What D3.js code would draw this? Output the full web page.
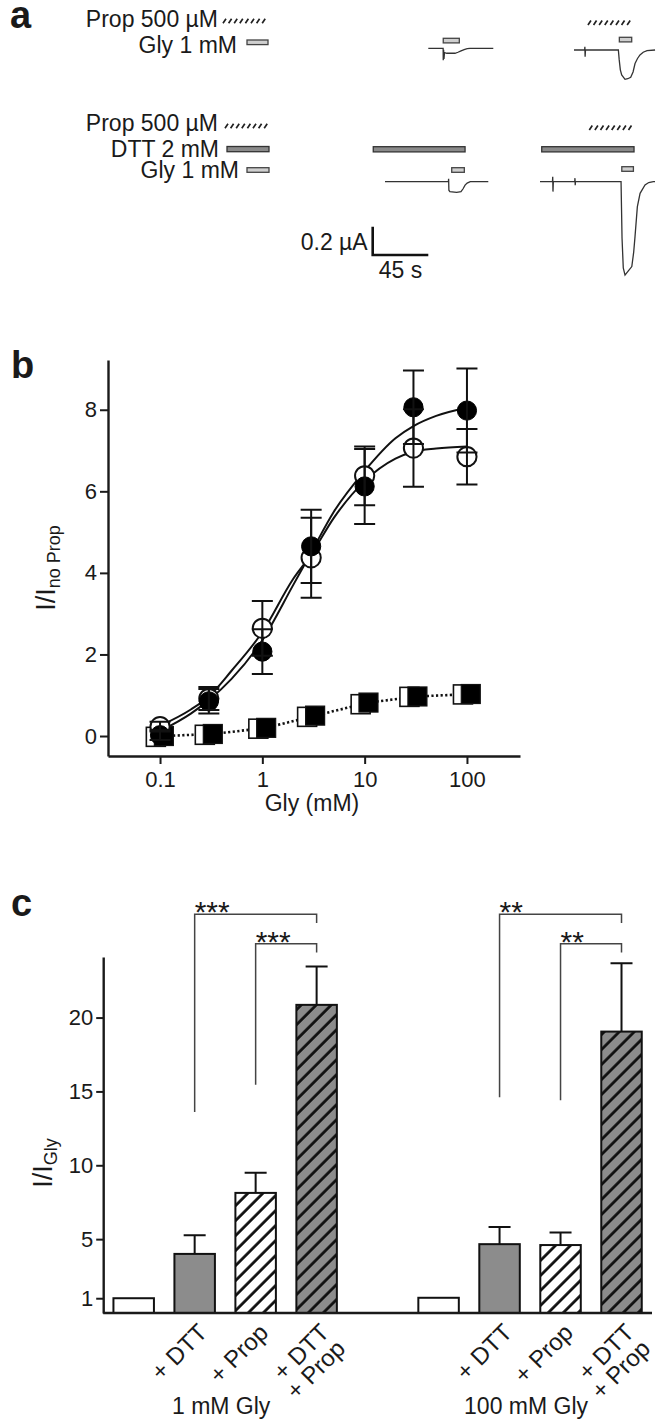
<!DOCTYPE html>
<html><head><meta charset="utf-8">
<script src="https://cdn.jsdelivr.net/npm/d3@7"></script>
<style>
body{margin:0;background:#fff}
svg{display:block}
text{font-family:"Liberation Sans",Arial,Helvetica,sans-serif;fill:#1a1a1a}
</style>
</head><body>
<svg id="fig" width="656" height="1424"></svg>
<script>
// ================= DATA =================
// Panel a: current traces, [time (s), current (µA)]
const traceCtrl = [[0,0],[12,0],[12.1,-0.085],[12.4,-0.01],[12.7,-0.075],[13.1,-0.03],[15,-0.035],[21.6,-0.035],[24,-0.028],[26.5,-0.018],[29,-0.009],[31.5,-0.003],[33.7,0],[52.6,0]];
const traceProp = [[0,0],[8.6,0],[8.8,0.022],[9.0,-0.047],[9.3,0],[35.9,0],[36.6,-0.07],[37.5,-0.14],[38.6,-0.176],[41.3,-0.207],[43.5,-0.203],[45.9,-0.193],[47.8,-0.155],[49.4,-0.096],[51.4,-0.06],[53.4,-0.035],[56,-0.016],[59.1,-0.005],[65.6,0]];
const traceDtt = [[0,0],[51.3,0],[51.5,0.02],[51.7,-0.06],[52.5,-0.07],[58,-0.075],[61.5,-0.071],[63.2,-0.05],[64.8,-0.024],[66.5,-0.01],[69,0],[83.6,0]];
const traceDttProp = [[0,0],[10.1,0],[10.3,0.035],[10.5,-0.07],[10.8,0],[28.1,0],[28.3,0.025],[28.5,-0.025],[28.7,0],[65.6,0],[66.0,-0.2],[66.4,-0.4],[67.4,-0.61],[68.8,-0.66],[71.5,-0.63],[74.3,-0.6],[75.8,-0.5],[76.9,-0.388],[78.8,-0.176],[81.0,-0.082],[85.0,-0.023],[88,-0.006],[91.7,0],[93.1,0]];
// drug applications [start, end] (s), per trace
const glyCtrl = [12.1,25.1];
const propProp = [11.3,48.0], glyProp = [36.7,46.7];
const dttDtt = [-9.5,64.8], glyDtt = [54.0,64.2];
const dttDttProp = [1.4,76.1], propDttProp = [39.9,76.1], glyDttProp = [66.2,75.6];
const scaleBarTime = 45, scaleBarCurrent = 0.2;

// Panel b: concentration response
const glyConc = [0.1,0.3,1,3,10,30,100];
const filledCircle = [0.02,0.85,2.07,4.65,6.12,8.06,7.98];
const filledCircleErr = [0.12,0.3,0.55,0.9,0.92,0.9,1.03];
const openCircle = [0.23,0.92,2.64,4.37,6.38,7.06,6.85];
const openCircleErr = [0.12,0.28,0.67,0.98,0.72,0.95,0.68];
const filledSquareX = [0.109,0.328,1.09,3.28,10.9,32.8,109];
const filledSquare = [0.0,0.05,0.2,0.5,0.82,0.97,1.03];
const openSquareX = [0.091,0.274,0.914,2.74,9.14,27.4,91.4];
const openSquare = [-0.02,0.03,0.18,0.47,0.78,0.96,1.02];
const fitConc = [0.1,0.2,0.3,0.5,1,2,3,5,10,20,30,50,100];
const fitFilled = [0.12,0.55,0.88,1.4,2.35,3.7,4.5,5.5,6.5,7.3,7.6,7.85,8.05];
const fitOpen = [0.25,0.65,0.97,1.6,2.55,3.85,4.45,5.35,6.25,6.8,6.97,7.05,7.1];
const xTicksB = [0.1,1,10,100];
const xTickLabelsB = ["0.1","1","10","100"];
const yTicksB = [0,2,4,6,8];

// Panel c: bar chart
const groups = ["1 mM Gly","100 mM Gly"];
const conditions = ["","+ DTT","+ Prop","+ DTT\n+ Prop"];
const ratio1mM = [1,4.0,8.13,20.86];
const err1mM = [0,1.27,1.37,2.6];
const ratio100mM = [1.03,4.66,4.6,19.05];
const err100mM = [0,1.17,0.85,4.62];
const yTicksC = [1,5,10,15,20];
const sigGroup = [0,0,1,1];
const sigFrom = [1,2,1,2];
const sigTo = [3,3,3,3];
const sigLabel = ["***","***","**","**"];
const sigLevel = [27.0,25.0,27.0,25.0];
const sigLegFrom = [13.6,15.45,14.6,14.4];
const sigLegTo = [26.4,24.4,26.4,24.4];

// ================= DRAW =================
const svg = d3.select("#fig");
const ink = "#1a1a1a";
const defs = svg.append("defs");
// hatches for bars
function hatch(id, bg){
  const p = defs.append("pattern").attr("id",id).attr("patternUnits","userSpaceOnUse")
    .attr("width",10.6).attr("height",10.6).attr("patternTransform","rotate(45)");
  p.append("rect").attr("width",10.6).attr("height",10.6).attr("fill",bg);
  p.append("line").attr("x1",1.5).attr("x2",1.5).attr("y1",0).attr("y2",10.6)
    .attr("stroke","#111").attr("stroke-width",2.8);
}
hatch("hatchW","#fff");
hatch("hatchG","#8c8c8c");

// panel letters
[["a",10,28],["b",11,378],["c",11,916]].forEach(([t,x,y])=>{
  svg.append("text").attr("x",x).attr("y",y).attr("font-size",38).attr("font-weight","bold").text(t);
});

// ---------- Panel a ----------
const tS = d3.scaleLinear().domain([0,45]).range([0,55.6]);
const iS = d3.scaleLinear().domain([0,-0.2]).range([0,28.3]);
const A = svg.append("g");
const fs = 23;
function slashes(parent,x1,x2,yc){
  const d = d3.range(x1, x2-2.5, 5.6).map(x=>`M${x},${yc+2.2}L${x+3},${yc-2.2}`).join("");
  parent.append("path").attr("d",d).attr("stroke","#222").attr("stroke-width",1.7).attr("fill","none");
}
function glyBox(parent,x1,x2,y){ parent.append("rect").attr("x",x1).attr("y",y).attr("width",x2-x1).attr("height",4.6).attr("fill","#cfcfcf").attr("stroke","#444").attr("stroke-width",1.3); }
function dttBar(parent,x1,x2,y){ parent.append("rect").attr("x",x1).attr("y",y).attr("width",x2-x1).attr("height",5.2).attr("fill","#8a8a8a").attr("stroke","#333").attr("stroke-width",1.3); }
function lbl(txt,x,y){ A.append("text").attr("x",x).attr("y",y).attr("text-anchor","end").attr("font-size",fs).text(txt); }

lbl("Prop 500 µM",218,27); slashes(A,223,269,21);
lbl("Gly 1 mM",237,53); glyBox(A,247,268,40);
lbl("Prop 500 µM",218,131); slashes(A,225,269,126);
lbl("DTT 2 mM",219,157); dttBar(A,227,269,146.5);
lbl("Gly 1 mM",239,178); glyBox(A,247,269,167.7);

const line = d3.line().x(d=>tS(d[0])).y(d=>iS(d[1]));
function trace(data,x0,y0){
  const g = A.append("g").attr("transform",`translate(${x0},${y0})`);
  g.append("path").attr("d",line(data)).attr("fill","none").attr("stroke","#333").attr("stroke-width",1.3);
  return g;
}
function app(g,kind,r,y){
  const x1=tS(r[0]), x2=tS(r[1]);
  if(kind==="prop") slashes(g,x1,x2,y);
  if(kind==="gly") glyBox(g,x1,x2,y);
  if(kind==="dtt") dttBar(g,x1,x2,y);
}
let g1 = trace(traceCtrl,428.3,48.3); app(g1,"gly",glyCtrl,-10);
let g2 = trace(traceProp,574,50); app(g2,"prop",propProp,-27.3); app(g2,"gly",glyProp,-12.7);
let g3 = trace(traceDtt,385,181.7); app(g3,"dtt",dttDtt,-35); app(g3,"gly",glyDtt,-14);
let g4 = trace(traceDttProp,540,181.7); app(g4,"dtt",dttDttProp,-35); app(g4,"prop",propDttProp,-54); app(g4,"gly",glyDttProp,-15);

// scale bar
const sb = A.append("g").attr("transform","translate(372.7,255)");
sb.append("path").attr("d",`M0,${-iS(-scaleBarCurrent)}V0H${tS(scaleBarTime)}`).attr("fill","none").attr("stroke","#111").attr("stroke-width",2.6);
sb.append("text").attr("x",-5).attr("y",-5).attr("text-anchor","end").attr("font-size",fs).text(scaleBarCurrent+" µA");
sb.append("text").attr("x",tS(scaleBarTime)/2).attr("y",23).attr("text-anchor","middle").attr("font-size",fs).text(scaleBarTime+" s");

// ---------- Panel b ----------
const xB = d3.scaleLog().domain([0.031,330]).range([108,520]);
const yB = d3.scaleLinear().domain([-0.49,9.22]).range([756,360]);
const B = svg.append("g");
function styleAxis(g){
  g.select(".domain").attr("stroke",ink).attr("stroke-width",2.4);
  g.selectAll(".tick line").attr("stroke",ink).attr("stroke-width",2);
  g.selectAll(".tick text").attr("fill",ink).attr("font-size",22).attr("font-family",'"Liberation Sans",Arial,sans-serif');
}
const axBx = B.append("g").attr("transform","translate(0,756)")
  .call(d3.axisBottom(xB).tickValues(xTicksB).tickFormat((d,i)=>xTickLabelsB[i]).tickSize(8).tickSizeOuter(0).tickPadding(7));
styleAxis(axBx);
const axBy = B.append("g").attr("transform","translate(108,0)")
  .call(d3.axisLeft(yB).tickValues(yTicksB).tickSize(8).tickSizeOuter(0).tickPadding(3));
styleAxis(axBy);
B.append("text").attr("x",312).attr("y",811).attr("text-anchor","middle").attr("font-size",23).text("Gly (mM)");
const ylb = B.append("text").attr("transform","translate(55,568) rotate(-90)").attr("text-anchor","middle").attr("font-size",27);
ylb.append("tspan").text("I/I");
ylb.append("tspan").attr("font-size",18).attr("dy",5).text("no Prop");

const fitLine = d3.line().x((d,i)=>xB(fitConc[i])).y(d=>yB(d)).curve(d3.curveMonotoneX);
B.append("path").attr("d",fitLine(fitFilled)).attr("fill","none").attr("stroke","#111").attr("stroke-width",2);
B.append("path").attr("d",fitLine(fitOpen)).attr("fill","none").attr("stroke","#111").attr("stroke-width",2);
const dotLine = d3.line().x((d,i)=>xB(filledSquareX[i])).y(d=>yB(d));
B.append("path").attr("d",dotLine(filledSquare)).attr("fill","none").attr("stroke","#111").attr("stroke-width",2.6).attr("stroke-dasharray","2.2,2.4");
const sq = 19;
B.selectAll(".osq").data(openSquare).join("rect").attr("x",(d,i)=>xB(openSquareX[i])-sq/2).attr("y",d=>yB(d)-sq/2)
  .attr("width",sq).attr("height",sq).attr("fill","#fff").attr("stroke","#111").attr("stroke-width",1.6);
B.selectAll(".fsq").data(filledSquare).join("rect").attr("x",(d,i)=>xB(filledSquareX[i])-sq/2).attr("y",d=>yB(d)-sq/2)
  .attr("width",sq).attr("height",sq).attr("fill","#000").attr("stroke","#111").attr("stroke-width",1.2);
const r = 9.6;
B.selectAll(".oc").data(openCircle).join("circle").attr("cx",(d,i)=>xB(glyConc[i])).attr("cy",d=>yB(d)).attr("r",r)
  .attr("fill","#fff").attr("stroke","#111").attr("stroke-width",2);
B.selectAll(".fc").data(filledCircle).join("circle").attr("cx",(d,i)=>xB(glyConc[i])).attr("cy",d=>yB(d)).attr("r",r)
  .attr("fill","#000").attr("stroke","#000").attr("stroke-width",1);
function errBars(vals,errs){
  vals.forEach((v,i)=>{
    const x = xB(glyConc[i]), y1 = yB(v+errs[i]), y2 = yB(v-errs[i]);
    B.append("path").attr("d",`M${x},${y1}V${y2}M${x-10.5},${y1}H${x+10.5}M${x-10.5},${y2}H${x+10.5}`)
      .attr("stroke","#111").attr("stroke-width",2).attr("fill","none");
  });
}
errBars(openCircle,openCircleErr);
errBars(filledCircle,filledCircleErr);

// ---------- Panel c ----------
const xC = d3.scaleBand().domain(d3.range(groups.length*conditions.length + groups.length-1))
  .range([103.2,652]).paddingInner(0.336).paddingOuter(0.168);
const yC = d3.scaleLinear().domain([0,24.1]).range([1313,957]);
const C = svg.append("g");
const fills = ["#fff","#8c8c8c","url(#hatchW)","url(#hatchG)"];
const slot = (g,c)=> g*(conditions.length+1)+c;
const cx = (g,c)=> xC(slot(g,c)) + xC.bandwidth()/2;
const ratios = [ratio1mM, ratio100mM], errs = [err1mM, err100mM];
ratios.forEach((vals,g)=>{
  vals.forEach((v,c)=>{
    C.append("rect").attr("x",xC(slot(g,c))).attr("y",yC(v)).attr("width",xC.bandwidth()).attr("height",yC(0)-yC(v))
      .attr("fill",fills[c]).attr("stroke","#111").attr("stroke-width",2);
    const e = errs[g][c];
    if(e>0){
      const x = cx(g,c);
      C.append("path").attr("d",`M${x},${yC(v)}V${yC(v+e)}M${x-11},${yC(v+e)}H${x+11}`)
        .attr("stroke","#111").attr("stroke-width",2).attr("fill","none");
    }
    if(conditions[c]){
      const t = C.append("text").attr("transform",`translate(${cx(g,c)+14},1334) rotate(-45)`)
        .attr("text-anchor","end").attr("font-size",24);
      conditions[c].split("\n").forEach((s,k)=> t.append("tspan").attr("x",0).attr("dy",k?"0.95em":0).text(s));
    }
  });
  C.append("text").attr("x",(cx(g,1)+cx(g,2))/2-4).attr("y",1414).attr("text-anchor","middle").attr("font-size",23).text(groups[g]);
});
const axCy = C.append("g").attr("transform","translate(103.2,0)")
  .call(d3.axisLeft(yC).tickValues(yTicksC).tickSize(7).tickSizeOuter(0).tickPadding(3));
styleAxis(axCy);
C.append("line").attr("x1",103.2).attr("x2",652).attr("y1",yC(0)).attr("y2",yC(0)).attr("stroke",ink).attr("stroke-width",2.4);
const ylc = C.append("text").attr("transform","translate(52,1163) rotate(-90)").attr("text-anchor","middle").attr("font-size",27);
ylc.append("tspan").text("I/I");
ylc.append("tspan").attr("font-size",18).attr("dy",5).text("Gly");

sigLabel.forEach((s,k)=>{
  const xa = cx(sigGroup[k],sigFrom[k]), xb = cx(sigGroup[k],sigTo[k]);
  C.append("path").attr("d",`M${xa},${yC(sigLegFrom[k])}V${yC(sigLevel[k])}H${xb}V${yC(sigLegTo[k])}`)
    .attr("fill","none").attr("stroke","#444").attr("stroke-width",1.5);
  C.append("text").attr("x",xa).attr("y",yC(sigLevel[k])+8).attr("font-size",30).text(s);
});
</script>
</body></html>
